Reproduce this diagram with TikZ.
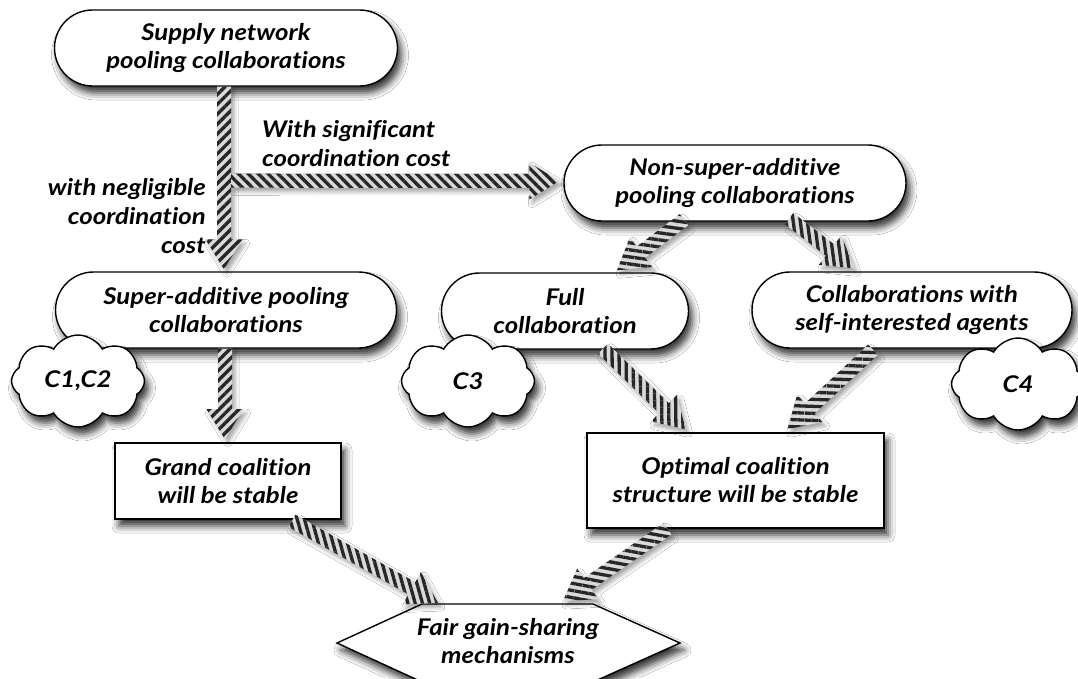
\documentclass[tikz,border=0pt]{standalone}
\usepackage{fontspec}
\setmainfont{Lato}[FakeStretch=1.12, Ligatures=NoCommon]
\usetikzlibrary{shapes.misc,shapes.symbols,patterns.meta,calc,shadows.blur}
% #1 start, #2 tip
\newcommand\fatarrow[2]{%
  \path (#1) coordinate (fas) (#2) coordinate (fae);
  \pgfmathanglebetweenpoints{\pgfpointanchor{fas}{center}}{\pgfpointanchor{fae}{center}}%
  \pgfmathsetmacro\fastripe{\pgfmathresult+135}%
  \path[fatarr, pattern={Lines[angle=\fastripe,distance=7pt,line width=3.3pt]}]
    let \p1=(fas), \p2=(fae), \n1={atan2(\y2-\y1,\x2-\x1)},
        \n2={veclen(\x2-\x1,\y2-\y1)}, \n3={\n2-30pt} in
    ($(\p1)+(\n1+90:7pt)$) -- ($(\p1)+(\n1:\n3)+(\n1+90:7pt)$)
    -- ($(\p1)+(\n1:\n3)+(\n1+90:18.5pt)$) -- (\p2)
    -- ($(\p1)+(\n1:\n3)+(\n1-90:18.5pt)$) -- ($(\p1)+(\n1:\n3)+(\n1-90:7pt)$)
    -- ($(\p1)+(\n1-90:7pt)$) -- cycle;%
}
\begin{document}
\begin{tikzpicture}[x=1pt,y=-1pt,
  every node/.style={font=\bfseries\itshape\fontsize{23}{28}\selectfont},
  shad/.style={blur shadow={shadow xshift=4pt,shadow yshift=-7pt,shadow blur radius=7pt,shadow opacity=80}},
  stadium/.style={shad, draw=black, line width=1.4pt, fill=white, rounded corners=38pt,
    minimum height=76pt, align=center, inner sep=0pt},
  box/.style={shad, draw=black, line width=1.6pt, fill=white, align=center, inner sep=0pt},
  puff/.style={shad, cloud, cloud puffs=8, cloud puff arc=120, draw=black, line width=1.4pt,
    fill=white, minimum width=133pt, minimum height=92pt, aspect=1.45, inner sep=0pt},
  fatarr/.style={blur shadow={shadow xshift=3pt,shadow yshift=-4pt,shadow blur radius=4pt,shadow opacity=35},
    preaction={fill=gray!30}, pattern color=black!85},
  lbl/.style={inner sep=0pt, font=\bfseries\itshape\fontsize{23}{29}\selectfont}
]
\useasboundingbox[fill=white] (0,0) rectangle (1078,678);

% stadium nodes
\node[stadium, minimum width=343pt] (n1) at (226,48) {Supply network\\pooling collaborations};
\node[stadium, minimum width=341pt] (n2) at (226,310) {Super-additive pooling\\collaborations};
\node[stadium, minimum width=342pt] (n3) at (735,183) {Non-super-additive\\pooling collaborations};
\node[stadium, minimum width=247pt] (n4) at (565,311) {Full\\collaboration};
\node[stadium, minimum width=320pt] (n5) at (912,310) {Collaborations with\\self-interested agents};

% clouds
\node[puff] (c12) at (78,381) {C1,C2};
\node[puff] (c3) at (468,381) {C3};
\node[puff] (c4) at (1018,384) {C4};

% boxes
\node[box, minimum width=226pt, minimum height=76pt] (g) at (228,481) {Grand coalition\\will be stable};
\node[box, minimum width=297pt, minimum height=95pt] (o) at (735.5,480.5) {Optimal coalition\\structure will be stable};

% hexagon
\coordinate (hc) at (508,643);
\draw[shad, draw=black, line width=1.4pt, fill=white]
  ($(hc)+(-171,0)$) -- ($(hc)+(-86,-39)$) -- ($(hc)+(85,-39)$) -- ($(hc)+(172,0)$)
  -- ($(hc)+(85,39)$) -- ($(hc)+(-86,39)$) -- cycle;
\node[align=center, inner sep=0pt] (hex) at ($(hc)+(0,-2)$) {Fair gain-sharing\\mechanisms};

% labels
\node[lbl, align=left, anchor=west] (lsig) at (262,144) {With significant\\coordination cost};
\node[lbl, align=right, anchor=east] (lneg) at (206,216) {with negligible\\coordination\\cost};

% arrows
\coordinate (split) at ($(n1.south)+(5,94)$);
\fatarrow{$(n1.south)+(-2,0)$}{$(n2.north)+(-2,-2)$}
\fatarrow{split}{$(n3.west)+(-4,-2)$}
\fatarrow{$(n2.south)+(-1,0)$}{$(g.north)+(-3,-3)$}
\fatarrow{$(n3.south)+(-51,-2)$}{$(n4.north)+(52,-2)$}
\fatarrow{$(n3.south)+(54,-3)$}{$(n5.north)+(-58,-3)$}
\fatarrow{$(n4.south)+(38,-1)$}{$(o.north)+(-50,-3)$}
\fatarrow{$(n5.south)+(-39,1)$}{$(o.north)+(52,-3)$}
\fatarrow{$(g.south)+(64,1)$}{$(hc)+(-70,-40)$}
\fatarrow{$(o.south)+(-68,0)$}{$(hc)+(55,-42)$}
\end{tikzpicture}
\end{document}
